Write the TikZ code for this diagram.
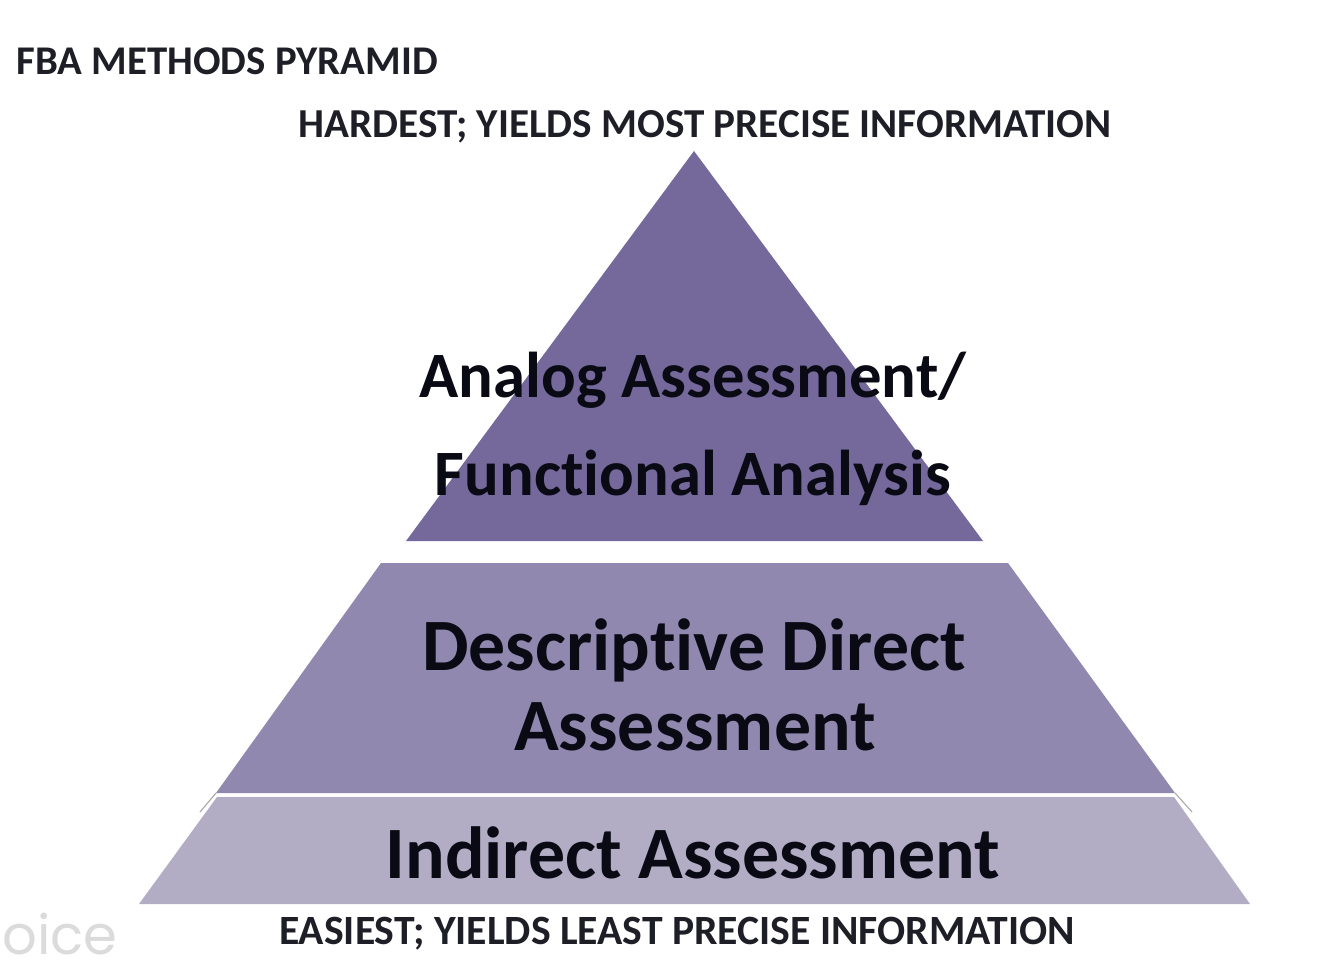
\documentclass[tikz,border=0pt]{standalone}
\usepackage{fontspec}
\setmainfont[Ligatures=NoCommon]{Carlito}
\newfontfamily\markfont{Poppins}
\usepackage{tikz}
\definecolor{topfill}{HTML}{75699C}
\definecolor{midfill}{HTML}{9188B0}
\definecolor{lowfill}{HTML}{B2ADC5}
\definecolor{inktext}{HTML}{0A0A14}
\tikzset{
  smalltext/.style={font=\bfseries\fontsize{11.7}{14}\selectfont, text=inktext!92, inner sep=0pt},
  bigtext/.style={font=\bfseries\fontsize{21}{25}\selectfont, text=inktext, inner sep=0pt},
  toptext/.style={font=\bfseries\fontsize{18.4}{22}\selectfont, text=inktext, inner sep=0pt},
}

\begin{document}
\begin{tikzpicture}[x=0.01cm, y=-0.01cm]
  \useasboundingbox (0,0) rectangle (1334,967);

  % top of the pyramid
  \fill[topfill] (694,151) -- (983,541) -- (406,541) -- cycle;

  % middle layer
  \fill[midfill] (381,563) -- (1008,563) -- (1175,793) -- (216,793) -- cycle;

  % bottom layer
  \fill[lowfill] (217,797) -- (1174,797) -- (1250,904) -- (139,904) -- cycle;

  % small slivers at the layer joint
  \draw[gray!70, line width=0.3pt] (216,793) -- (200,812);
  \draw[gray!70, line width=0.3pt] (1175,793) -- (1192,812);

  % headings
  \node[smalltext, anchor=west, font=\bfseries\fontsize{11.6}{14}\selectfont] (title) at (16,61) {FBA METHODS PYRAMID};
  \node[smalltext] (hardest) at (705,127) {HARDEST; YIELDS MOST PRECISE INFORMATION};
  \node[smalltext, font=\bfseries\fontsize{11.85}{14}\selectfont] (easiest) at (677,934) {EASIEST; YIELDS LEAST PRECISE INFORMATION};

  % layer labels
  \node[toptext] (analog) at (693,380) {Analog Assessment/};
  \node[toptext] (functional) at (693,478) {Functional Analysis};
  \node[bigtext] (descriptive) at (694,650) {Descriptive Direct};
  \node[bigtext] (assessment) at (695,727) {Assessment};
  \node[bigtext] (indirect) at (693,853) {Indirect Assessment};

  % watermark
  \node[anchor=east, inner sep=0pt, text=black!14, font=\markfont\fontsize{15.5}{18}\selectfont] (mark) at (118,934) {oice};
\end{tikzpicture}
\end{document}
